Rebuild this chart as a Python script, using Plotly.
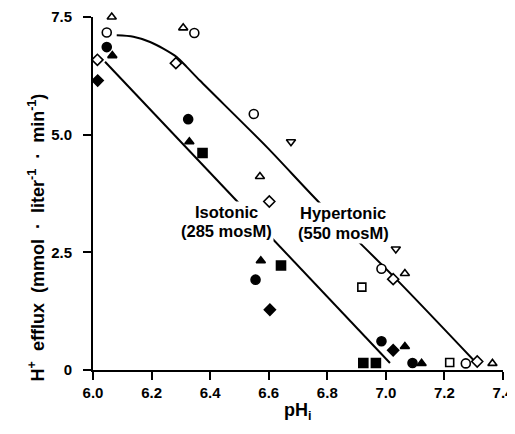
import plotly.graph_objects as go

# ---- data ----
x_ticks = [6.0, 6.2, 6.4, 6.6, 6.8, 7.0, 7.2, 7.4]
x_tick_labels = ["6.0", "6.2", "6.4", "6.6", "6.8", "7.0", "7.2", "7.4"]
y_ticks = [0, 2.5, 5.0, 7.5]
y_tick_labels = ["0", "2.5", "5.0", "7.5"]

# Isotonic (filled symbols)
iso_circle_x = [6.047, 6.325, 6.555, 6.985, 7.091]
iso_circle_y = [6.86, 5.33, 1.92, 0.61, 0.15]
iso_triangle_x = [6.066, 6.329, 6.573, 7.065, 7.122]
iso_triangle_y = [6.68, 4.85, 2.32, 0.50, 0.14]
iso_diamond_x = [6.016, 6.604, 7.025]
iso_diamond_y = [6.15, 1.28, 0.42]
iso_square_x = [6.374, 6.642, 6.923, 6.966]
iso_square_y = [4.61, 2.22, 0.15, 0.15]

# Hypertonic (open symbols)
hyp_circle_x = [6.047, 6.346, 6.549, 6.985, 7.273]
hyp_circle_y = [7.17, 7.16, 5.44, 2.15, 0.14]
hyp_triangle_x = [6.064, 6.308, 6.570, 7.065, 7.364]
hyp_triangle_y = [7.50, 7.27, 4.11, 2.05, 0.14]
hyp_diamond_x = [6.015, 6.283, 6.602, 7.025, 7.312]
hyp_diamond_y = [6.59, 6.52, 3.58, 1.93, 0.18]
hyp_square_x = [6.918, 7.218]
hyp_square_y = [1.76, 0.16]
hyp_downtri_x = [6.676, 7.034]
hyp_downtri_y = [4.85, 2.57]

# Fitted lines
iso_fit_x = [6.041, 7.014]
iso_fit_y = [6.55, 0.15]
hyp_fit_x = [6.081, 6.138, 6.195, 6.240, 6.286, 6.320, 6.365, 6.593, 6.769, 7.037, 7.304]
hyp_fit_y = [7.11, 7.08, 6.97, 6.83, 6.65, 6.44, 6.15, 4.74, 3.58, 1.92, 0.18]

FONT = "Liberation Sans"
NB = "\u00a0"

fig = go.Figure()
fig.add_trace(go.Scatter(x=iso_fit_x, y=iso_fit_y, mode="lines",
                         line=dict(color="black", width=2)))
fig.add_trace(go.Scatter(x=hyp_fit_x, y=hyp_fit_y, mode="lines",
                         line=dict(color="black", width=2, shape="spline", smoothing=0.8)))

def add_markers(xs, ys, symbol, size, filled):
    fig.add_trace(go.Scatter(
        x=xs, y=ys, mode="markers", cliponaxis=False,
        marker=dict(symbol=symbol, size=size,
                    color="black" if filled else "white",
                    line=dict(color="black", width=1.6))))

add_markers(hyp_circle_x, hyp_circle_y, "circle", 9, False)
add_markers(hyp_triangle_x, hyp_triangle_y, "triangle-up", 8, False)
add_markers(hyp_diamond_x, hyp_diamond_y, "diamond", 8.5, False)
add_markers(hyp_square_x, hyp_square_y, "square", 8, False)
add_markers(hyp_downtri_x, hyp_downtri_y, "triangle-down", 8, False)
add_markers(iso_circle_x, iso_circle_y, "circle", 9, True)
add_markers(iso_triangle_x, iso_triangle_y, "triangle-up", 8, True)
add_markers(iso_diamond_x, iso_diamond_y, "diamond", 8.5, True)
add_markers(iso_square_x, iso_square_y, "square", 9, True)

tickfont = dict(family=FONT, size=15, color="black", weight="bold")
labfont = dict(family=FONT, size=16.5, color="black", weight="bold")

axis_common = dict(showline=True, linecolor="black", linewidth=2, showgrid=False,
                   zeroline=False, ticks="outside", ticklen=8, tickwidth=1.5,
                   tickcolor="black", tickfont=tickfont, automargin=False)

dot = NB * 2 + "·" + NB * 2
ytitle = ("H<sup>+</sup>" + NB + " efflux " + NB + "(mmol" + dot + "liter<sup>-1</sup>"
          + dot + "min<sup>-1</sup>)")

fig.update_layout(
    width=507, height=418,
    margin=dict(l=85, r=12, t=9, b=55.5),
    plot_bgcolor="white", paper_bgcolor="white",
    showlegend=False,
    xaxis=dict(range=[6.0, 7.4], tickvals=x_ticks, ticktext=x_tick_labels,
               ticklabelstandoff=0, **axis_common),
    yaxis=dict(range=[0, 7.5], tickvals=y_ticks, ticktext=y_tick_labels,
               ticklabelstandoff=8, **axis_common),
    annotations=[
        dict(text="Isotonic", x=6.456, y=3.36, xref="x", yref="y", showarrow=False,
             font=labfont, bgcolor="white", borderpad=1),
        dict(text="(285 mosM)", x=6.456, y=2.95, xref="x", yref="y", showarrow=False,
             font=labfont, bgcolor="white", borderpad=1),
        dict(text="Hypertonic", x=6.854, y=3.34, xref="x", yref="y", showarrow=False,
             font=labfont, bgcolor="white", borderpad=1),
        dict(text="(550 mosM)", x=6.854, y=2.92, xref="x", yref="y", showarrow=False,
             font=labfont, bgcolor="white", borderpad=1),
        dict(text=ytitle,
             x=-0.137, y=0.375, xref="paper", yref="paper", showarrow=False,
             textangle=-90, xanchor="center", yanchor="middle",
             font=dict(family=FONT, size=18, color="black", weight="bold")),
        dict(text="pH<sub>i</sub>", x=0.5, y=-0.118, xref="paper", yref="paper",
             showarrow=False, xanchor="center", yanchor="middle",
             font=dict(family=FONT, size=18, color="black", weight="bold")),
    ],
)

fig.write_html("out.html")
